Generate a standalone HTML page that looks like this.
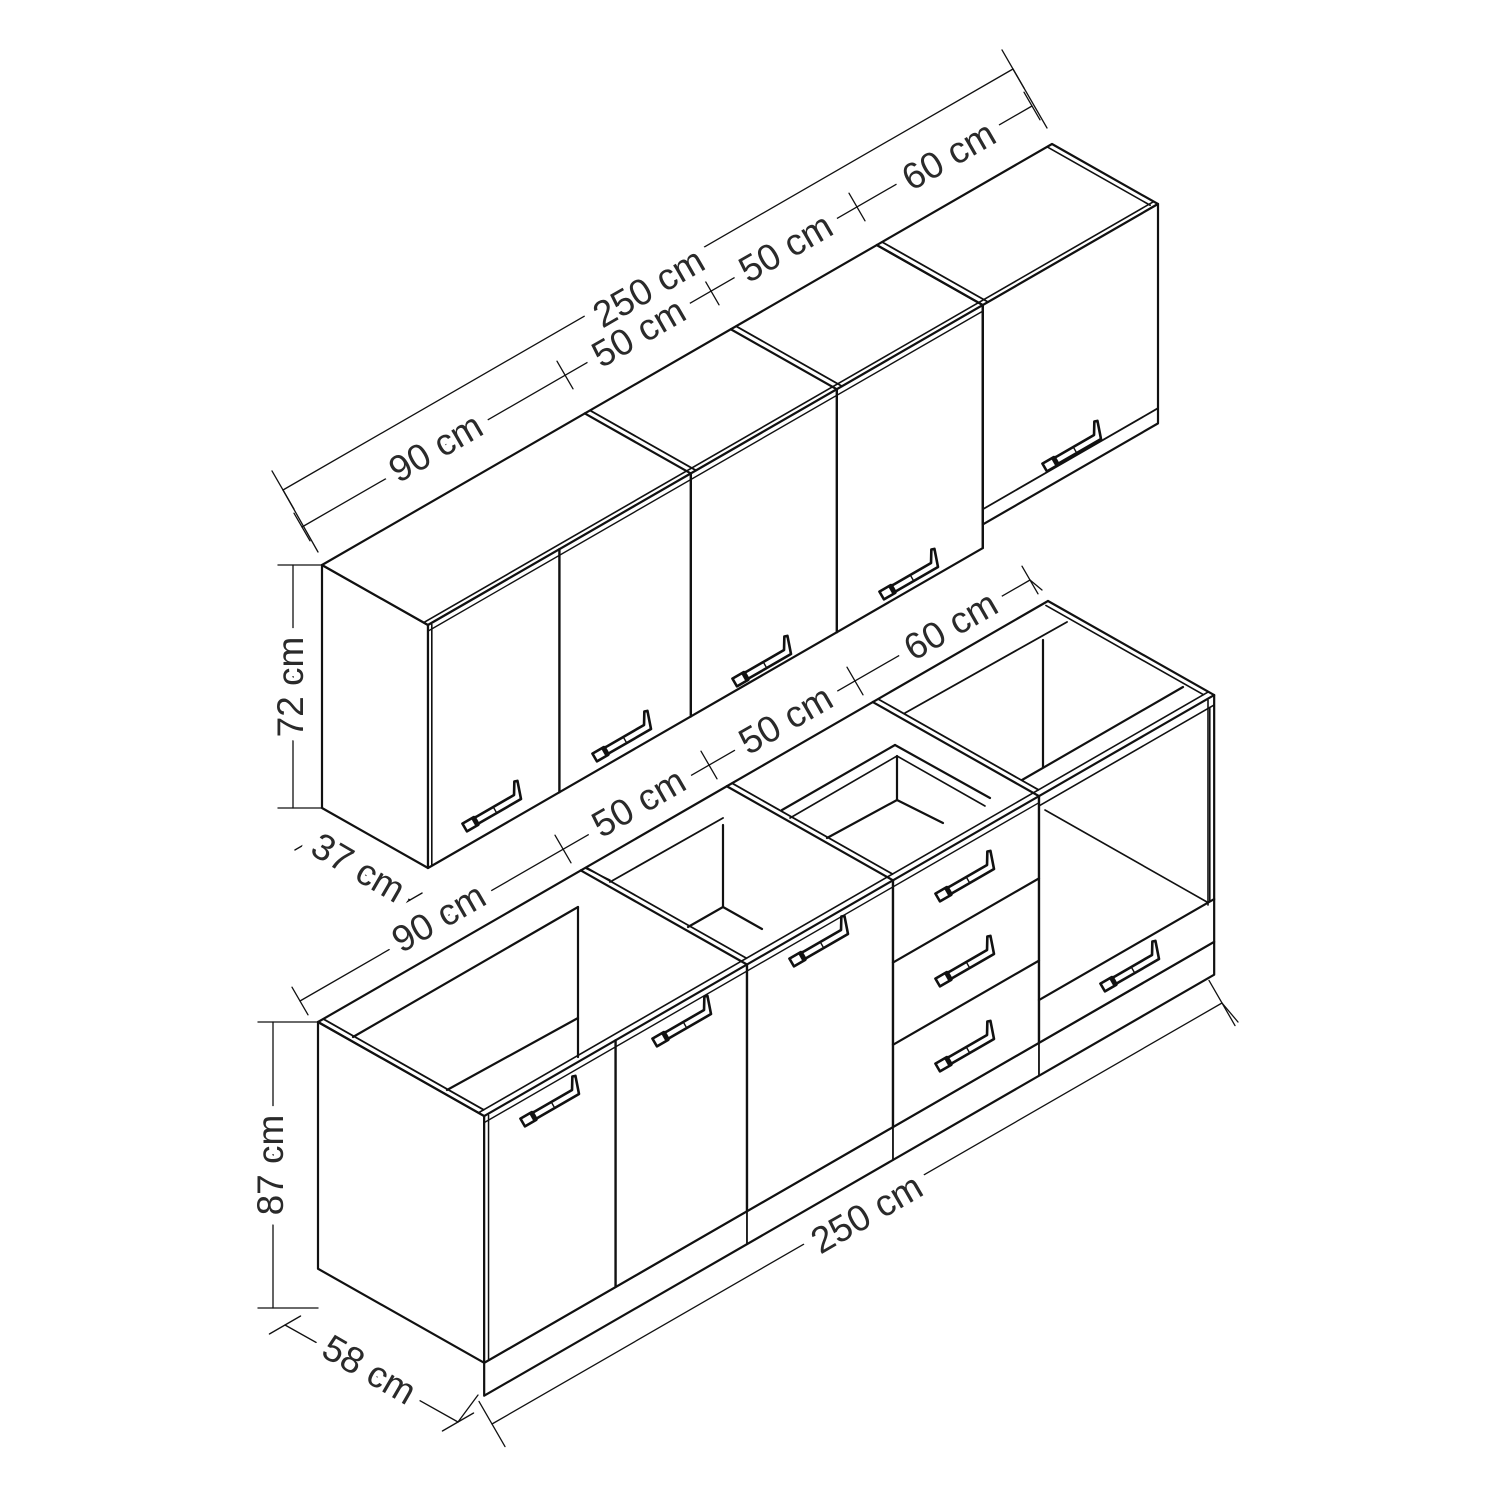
<!DOCTYPE html>
<html><head><meta charset="utf-8"><style>
html,body{margin:0;padding:0;background:#fff;}
svg{display:block}
text{font-family:"Liberation Sans",sans-serif;font-size:37px;fill:#2a2a2a}
#bg text{fill:#fff;stroke:#fff;stroke-width:22px;stroke-linejoin:round}
</style></head><body>
<svg id="s" width="1500" height="1500" viewBox="0 0 1500 1500" xmlns="http://www.w3.org/2000/svg">
<g id="g" fill="none" stroke="#111" stroke-width="2.2" stroke-linejoin="round" stroke-linecap="round"></g>
<g id="t">
<text x="650" y="290" text-anchor="middle" dominant-baseline="middle" transform="rotate(-30 650 290)">250 cm</text>
<text x="437" y="450" text-anchor="middle" dominant-baseline="middle" transform="rotate(-30 437 450)">90 cm</text>
<text x="640" y="335" text-anchor="middle" dominant-baseline="middle" transform="rotate(-30 640 335)">50 cm</text>
<text x="787" y="250" text-anchor="middle" dominant-baseline="middle" transform="rotate(-30 787 250)">50 cm</text>
<text x="950" y="158" text-anchor="middle" dominant-baseline="middle" transform="rotate(-30 950 158)">60 cm</text>
<text x="440" y="920" text-anchor="middle" dominant-baseline="middle" transform="rotate(-30 440 920)">90 cm</text>
<text x="640" y="805" text-anchor="middle" dominant-baseline="middle" transform="rotate(-30 640 805)">50 cm</text>
<text x="787" y="722" text-anchor="middle" dominant-baseline="middle" transform="rotate(-30 787 722)">50 cm</text>
<text x="952" y="628" text-anchor="middle" dominant-baseline="middle" transform="rotate(-30 952 628)">60 cm</text>
<text x="868" y="1216" text-anchor="middle" dominant-baseline="middle" transform="rotate(-30 868 1216)">250 cm</text>
<text x="293" y="687" text-anchor="middle" dominant-baseline="middle" transform="rotate(-90 293 687)">72 cm</text>
<text x="273" y="1165" text-anchor="middle" dominant-baseline="middle" transform="rotate(-90 273 1165)">87 cm</text>
<text x="357" y="870" text-anchor="middle" dominant-baseline="middle" transform="rotate(30 357 870)">37 cm</text>
<text x="368" y="1372" text-anchor="middle" dominant-baseline="middle" transform="rotate(30 368 1372)">58 cm</text>
</g>
</svg>
<script>
var g=document.getElementById('g'),t=document.getElementById('t'),NS='http://www.w3.org/2000/svg';
function el(n,a,p){var e=document.createElementNS(NS,n);for(var k in a)e.setAttribute(k,a[k]);(p||g).appendChild(e);return e;}
function U(l,d,h){return [322+l*2.92+d*2.865,565-l*1.684+d*1.622+h*3.375];}
function B(l,d,h){return [318+l*2.92+d*2.865,1022-l*1.684+d*1.622+h*3.29];}
function L(a,b,w){el('line',{x1:a[0],y1:a[1],x2:b[0],y2:b[1],'stroke-width':w||2.2});}
function P(pts,w){el('polygon',{points:pts.map(function(p){return p.join(',')}).join(' '),fill:'#fff','stroke-width':w||2.2});}
function handle(x,y){var h=el('g',{transform:'translate('+x+','+y+') rotate(-30)'});
el('path',{d:'M-22,-3.5 L24,-3.5 L31,-15 L34,-14 L28,3.5 L-22,3.5 Z',fill:'#fff','stroke-width':2.6},h);
el('line',{x1:0,y1:-3,x2:0,y2:3,'stroke-width':1.4},h);
el('path',{d:'M-22,-4.5 L-35,-4.5 M-22,4.5 L-35,4.5 M-35,-4.5 L-35,4.5',fill:'none','stroke-width':2.6},h);
el('rect',{x:-25,y:-5,width:5,height:10,fill:'#111',stroke:'none'},h);}
/* ---------- UPPER ---------- */
P([U(0,0,0),U(0,37,0),U(0,37,72),U(0,0,72)]);
P([U(0,0,0),U(190,0,0),U(190,37,0),U(0,37,0)]);
P([U(0,37,0),U(190,37,0),U(190,37,72),U(0,37,72)]);
P([U(190,0,0),U(250,0,0),U(250,37,0),U(190,37,0)]);
P([U(190,37,0),U(250,37,0),U(250,37,65),U(190,37,65)]);
L(U(0,35.5,0),U(250,35.5,0),1.6);
[90,140,190].forEach(function(l){L(U(l,0,0),U(l,37,0));L(U(l+1.8,0,0),U(l+1.8,37,0),1.8);});
L(U(248.3,0,0),U(248.3,36,0),1.6);
L(U(1.3,37,0.5),U(1.3,37,72),1.6);
[45,90,140,190].forEach(function(l){L(U(l,37,0),U(l,37,72),2.4);});
L(U(190,37,60.5),U(250,37,60.5),1.8);
L(U(0,37,1.8),U(190,37,1.8),1.4);
/* ---------- BASE ---------- */
P([B(0,0,0),B(0,58,0),B(0,58,75),B(0,0,75)]);
P([B(0,58,75),B(250,58,75),B(250,58,85),B(0,58,85)]);
[90,140,190].forEach(function(l){L(B(l,58,75),B(l,58,85),1.8);});
P([B(0,58,0),B(250,58,0),B(250,58,75),B(0,58,75)]);
L(B(0,0,0),B(90,0,0));L(B(90,0,0),B(140,0,0));L(B(140,0,0),B(190,0,0));L(B(190,0,0),B(250,0,0));
L(B(0,56,0),B(250,56,0),1.6);
[0,90,140,190].forEach(function(l){L(B(l,0,0),B(l,58,0));L(B(l+1.8,0,0),B(l+1.8,56,0),1.8);});
L(B(250,0,0),B(250,58,0));L(B(248.3,1,0),B(248.3,56,0),1.6);
[45,90,140,190].forEach(function(l){L(B(l,58,0),B(l,58,75),2.4);});
L(B(1.5,58,0.5),B(1.5,58,75),1.5);
L(B(140,58,25),B(190,58,25));L(B(140,58,50),B(190,58,50));
L(B(190,58,62),B(250,58,62));
L(B(0,58,2),B(190,58,2),1.4);
L(B(190,58,3),B(250,58,3),1.6);
L(B(248.5,58,3),B(248.5,58,62),1.6);
/* sink interior */
L([353,1037],[578,907]);L([578,907],[578,1057]);L([447,1090],[578,1018]);
L([585,868],[610,880],1.5);
/* door cab interior */
L([610,882],[723,818],1.8);L([723,825],[723,907]);L([723,907],[688,927]);L([723,907],[762,929]);
/* drawer box */
L([782,810],[895,745]);L([895,745],[990,798]);L([790,818],[897,756],1.6);L([897,756],[985,806],1.6);
L([897,756],[897,800]);L([897,800],[827,838]);L([897,800],[943,823]);
/* oven interior */
L([1043,640],[1043,767]);L([1022,780],[1183,687]);L([905,713],[1067,622],1.8);L([1045,810],[1207,902],1.6);
L([1208,700],[1208,905],1.6);
/* handles */
[[495,810],[625,740],[765,665],[912,578],[1075,450],[553,1105],[685,1025],[822,945],[968,880],[968,965],[968,1050],[1133,970]].forEach(function(p){handle(p[0],p[1]);});
/* ---------- DIMENSIONS ---------- */
var th=1.3;
function D(a,b){L(a,b,th);}
function tick(p,dx,dy,s){L([p[0]-dx*s,p[1]-dy*s],[p[0]+dx*s,p[1]+dy*s],th);}
D([283,490],[1013,69]);tick([283,490],0.5,0.866,22);tick([1013,69],0.5,0.866,22);
L([1013,69],[1047,128],th);L([283,490],[318,552],th);
D([302,527],[1032,106]);[[302,527],[565,375],[711,291],[857,207],[1032,106]].forEach(function(p){tick(p,0.5,0.866,16);});
D([300,1001],[1030,580]);[[300,1001],[563,849],[709,765],[855,681],[1030,580]].forEach(function(p){tick(p,0.5,0.866,16);});
L([1030,580],[1042,590],th);
D([492,1424],[1222,1003]);tick([492,1424],0.5,0.866,26);tick([1222,1003],0.5,0.866,26);
L([1222,1003],[1238,1022],th);
D([293,565],[293,808]);L([278,565],[323,565],th);L([278,808],[323,808],th);
D([273,1022],[273,1308]);L([258,1022],[318,1022],th);L([258,1308],[318,1308],th);
D([307,843],[410,900]);tick([307,843],0.866,-0.5,14);tick([410,900],0.866,-0.5,14);
D([285,1325],[458,1422]);tick([285,1325],0.866,-0.5,18);tick([458,1422],0.866,-0.5,18);
L([458,1422],[478,1395],th);
/* text: white knockout layer then text on top */
var bg=t.cloneNode(true);bg.setAttribute('id','bg');
g.parentNode.appendChild(bg);g.parentNode.appendChild(t);
</script>
</body></html>
